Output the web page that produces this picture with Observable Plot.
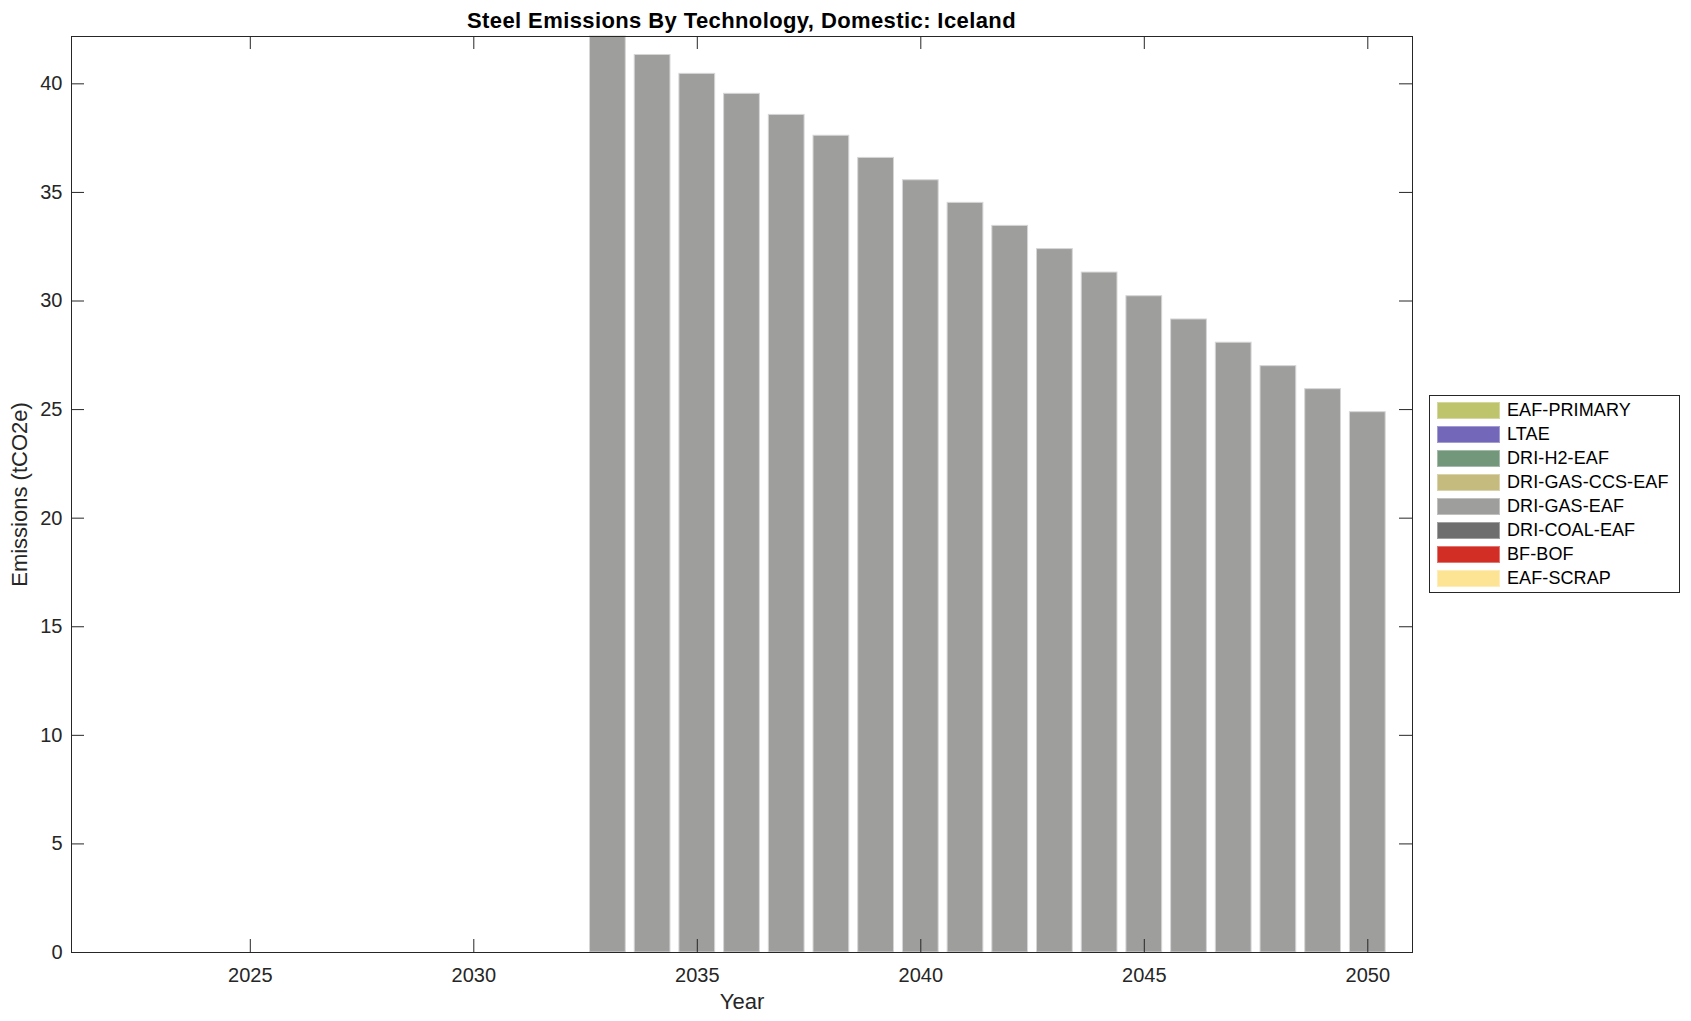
<!DOCTYPE html>
<html>
<head>
<meta charset="utf-8">
<script src="https://cdn.jsdelivr.net/npm/d3@7"></script>
<script src="https://cdn.jsdelivr.net/npm/@observablehq/plot@0.6"></script>
<style>
  body { margin: 0; background: #fff; font-family: "Liberation Sans", Arial, sans-serif; color: #262626; }
  #wrap { position: relative; width: 1691px; height: 1021px; overflow: hidden; }
  #title { position: relative; margin-left: 71px; width: 1341px; height: 24px; padding-top: 6px; line-height: 30px;
           text-align: center; font-weight: bold; font-size: 22px; letter-spacing: 0.4px; white-space: nowrap; color: #000; }
  #legend { position: absolute; left: 1429px; top: 395px; width: 249px; height: 196px; border: 1px solid #262626; background: #fff; }
  .item { position: absolute; left: 0; height: 17px; width: 249px; }
  .sw { position: absolute; left: 7px; top: 0; width: 63px; height: 17px; box-shadow: inset 0 0 0 1px rgba(255,255,255,0.35); }
  .lab { position: absolute; left: 77px; top: -3px; font-size: 18px; line-height: 22px; letter-spacing: 0.1px; white-space: nowrap; color: #000; }
</style>
</head>
<body>
<div id="wrap">
  <div id="title"></div>
  <div id="chart"></div>
  <div id="legend"></div>
</div>
<script>
// ---------- Data ----------
const titleText = "Steel Emissions By Technology, Domestic: Iceland";
const xLabel = "Year";
const yLabel = "Emissions (tCO2e)";

const years = [2022, 2023, 2024, 2025, 2026, 2027, 2028, 2029, 2030, 2031, 2032,
               2033, 2034, 2035, 2036, 2037, 2038, 2039, 2040, 2041, 2042, 2043,
               2044, 2045, 2046, 2047, 2048, 2049, 2050];

const techs = ["EAF-PRIMARY", "LTAE", "DRI-H2-EAF", "DRI-GAS-CCS-EAF", "DRI-GAS-EAF", "DRI-COAL-EAF", "BF-BOF", "EAF-SCRAP"];
const techColors = ["#bdc46b", "#7267b8", "#73977b", "#c6bb7e", "#9e9e9d", "#6e6e6e", "#d22e26", "#fde394"];

const eafPrimary   = [0,0,0,0,0,0,0,0,0,0,0, 0,0,0,0,0,0,0,0,0,0,0, 0,0,0,0,0,0,0];
const ltae         = [0,0,0,0,0,0,0,0,0,0,0, 0,0,0,0,0,0,0,0,0,0,0, 0,0,0,0,0,0,0];
const driH2Eaf     = [0,0,0,0,0,0,0,0,0,0,0, 0,0,0,0,0,0,0,0,0,0,0, 0,0,0,0,0,0,0];
const driGasCcsEaf = [0,0,0,0,0,0,0,0,0,0,0, 0,0,0,0,0,0,0,0,0,0,0, 0,0,0,0,0,0,0];
const driGasEaf    = [0,0,0,0,0,0,0,0,0,0,0,
                      42.18, 41.33, 40.46, 39.54, 38.57, 37.61, 36.59, 35.56, 34.52, 33.46, 32.39,
                      31.31, 30.22, 29.15, 28.08, 27.00, 25.94, 24.88];
const driCoalEaf   = [0,0,0,0,0,0,0,0,0,0,0, 0,0,0,0,0,0,0,0,0,0,0, 0,0,0,0,0,0,0];
const bfBof        = [0,0,0,0,0,0,0,0,0,0,0, 0,0,0,0,0,0,0,0,0,0,0, 0,0,0,0,0,0,0];
const eafScrap     = [0,0,0,0,0,0,0,0,0,0,0, 0,0,0,0,0,0,0,0,0,0,0, 0,0,0,0,0,0,0];

const seriesList = [eafPrimary, ltae, driH2Eaf, driGasCcsEaf, driGasEaf, driCoalEaf, bfBof, eafScrap];

const xTicks = [2025, 2030, 2035, 2040, 2045, 2050];
const yTicks = [0, 5, 10, 15, 20, 25, 30, 35, 40];
const xDomain = [2021, 2051];
const yDomain = [0, 42.18];

// ---------- Table ----------
const stackOrder = techs.slice().reverse(); // bottom-to-top
const data = [];
stackOrder.forEach(t => {
  const arr = seriesList[techs.indexOf(t)];
  years.forEach((y, j) => data.push({year: y, tech: t, value: arr[j]}));
});

// ---------- Layout ----------
const W = 1691, H = 991, mL = 71, mR = 279, mT = 6, mB = 69;
const pw = W - mL - mR, ph = H - mT - mB;
const tick = 13;
const ink = "#262626";

document.getElementById("title").textContent = titleText;

const chart = Plot.plot({
  width: W, height: H,
  marginLeft: mL, marginRight: mR, marginTop: mT, marginBottom: mB,
  style: {fontFamily: "'Liberation Sans', Arial, sans-serif", color: ink, background: "#fff", overflow: "visible"},
  x: {domain: xDomain},
  y: {domain: yDomain},
  color: {domain: techs, range: techColors},
  marks: [
    Plot.rectY(data, Plot.stackY({
      filter: d => d.value > 0,
      x1: d => d.year - 0.4, x2: d => d.year + 0.4,
      y: "value", fill: "tech", order: stackOrder,
      stroke: "#d6d6d6", strokeWidth: 1
    })),
    Plot.ruleY(yTicks, {y: d => d, insetRight: pw - tick, stroke: ink}),
    Plot.ruleY(yTicks, {y: d => d, insetLeft: pw - tick, stroke: ink}),
    Plot.ruleX(xTicks, {x: d => d, insetTop: ph - tick, stroke: ink}),
    Plot.ruleX(xTicks, {x: d => d, insetBottom: ph - tick, stroke: ink}),
    Plot.axisX({ticks: xTicks, tickSize: 0, tickPadding: 15, fontSize: 20, label: null, tickFormat: d => String(d)}),
    Plot.axisY({ticks: yTicks, tickSize: 0, tickPadding: 9, fontSize: 20, label: null}),
    Plot.frame({stroke: ink}),
    Plot.text([xLabel], {text: d => d, frameAnchor: "bottom", lineAnchor: "middle", textAnchor: "middle", dy: 49, fontSize: 22, fill: ink}),
    Plot.text([yLabel], {text: d => d, frameAnchor: "left", lineAnchor: "middle", textAnchor: "middle", dx: -52, rotate: -90, fontSize: 22, fill: ink})
  ]
});
document.getElementById("chart").appendChild(chart);

// ---------- Legend ----------
const legend = document.getElementById("legend");
techs.forEach((t, i) => {
  const item = document.createElement("div");
  item.className = "item";
  item.style.top = (6 + i * 24) + "px";
  const sw = document.createElement("div");
  sw.className = "sw";
  sw.style.background = techColors[i];
  const lab = document.createElement("div");
  lab.className = "lab";
  lab.textContent = t;
  item.appendChild(sw);
  item.appendChild(lab);
  legend.appendChild(item);
});
</script>
</body>
</html>
